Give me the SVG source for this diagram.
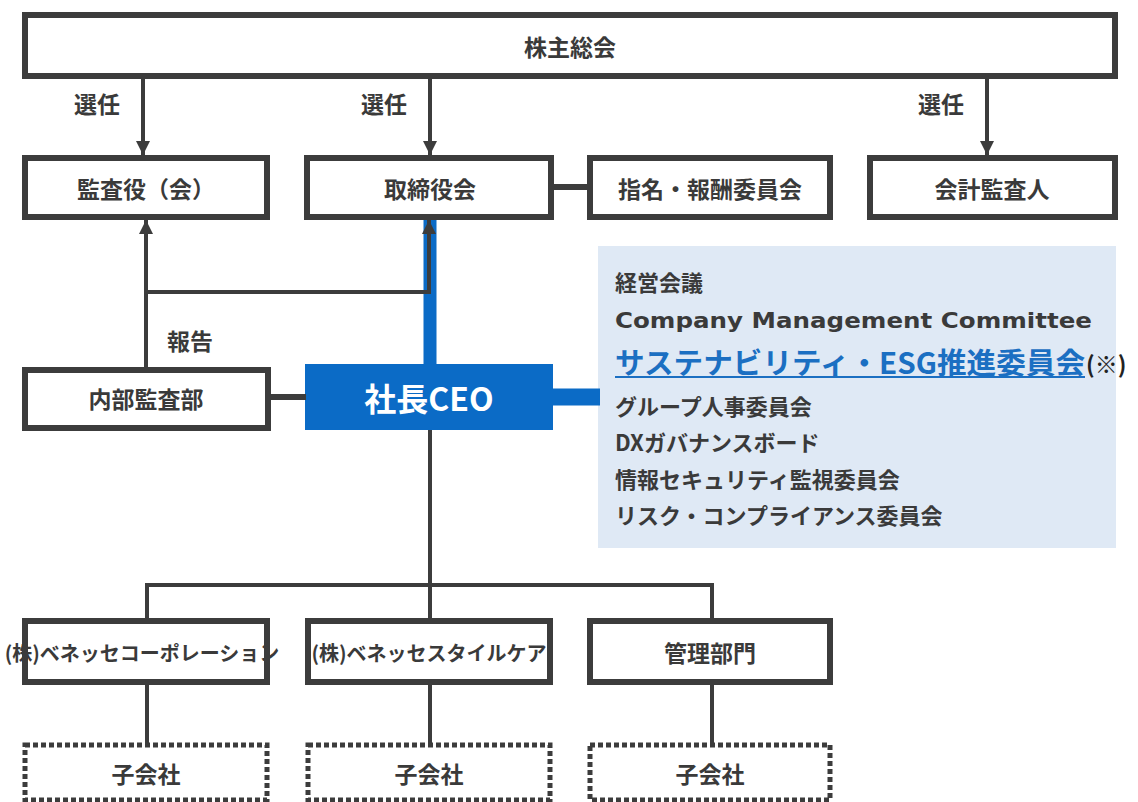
<svg xmlns="http://www.w3.org/2000/svg" width="1138" height="802" viewBox="0 0 1138 802">
<defs>
<marker id="ah" viewBox="0 0 14 14" refX="14" refY="7" markerWidth="14" markerHeight="14" markerUnits="userSpaceOnUse" orient="auto">
<path d="M0,0 L14,7 L0,14 Z" fill="#3c3c3c"/>
</marker>
<style>
.box{fill:#fff;stroke:#3c3c3c;stroke-width:6}
.dash{fill:#fff;stroke:#3c3c3c;stroke-width:5;stroke-dasharray:5 3}
.t{font-family:"Noto Sans CJK JP","Noto Sans",sans-serif;font-weight:bold;font-size:23px;fill:#3a3a3a;text-anchor:middle;dominant-baseline:central}
.s{font-size:20px}
.p{font-family:"Noto Sans CJK JP","Noto Sans",sans-serif;font-weight:bold;font-size:22px;fill:#3a3a3a;dominant-baseline:central}
.ln{stroke:#3c3c3c;stroke-width:4;fill:none}
.bl{stroke:#0b6bc6;fill:none}
</style>
</defs>
<rect width="1138" height="802" fill="#fff"/>

<g id="panel">
<rect x="598" y="246" width="518" height="302" fill="#dfe9f5"/>
<text class="p" x="615" y="281">経営会議</text>
<text class="p" x="615" y="320" style="font-family:'DejaVu Sans',sans-serif;font-size:22px" textLength="477" lengthAdjust="spacingAndGlyphs">Company Management  Committee</text>
<text class="p" x="615" y="361" style="font-size:29px;fill:#1b6fc2" textLength="470" lengthAdjust="spacingAndGlyphs">サステナビリティ・ESG推進委員会</text>
<line x1="615" y1="377" x2="1085" y2="377" stroke="#1b6fc2" stroke-width="2"/>
<text class="p" x="1086" y="363" style="font-size:23px;fill:#222">(※)</text>
<text class="p" x="615" y="405">グループ人事委員会</text>
<text class="p" x="615" y="441">DXガバナンスボード</text>
<text class="p" x="615" y="478">情報セキュリティ監視委員会</text>
<text class="p" x="615" y="514">リスク・コンプライアンス委員会</text>
</g>

<g id="n-shareholders">
<rect class="box" x="25" y="15" width="1090" height="61"/>
<text class="t" x="570" y="46">株主総会</text>
</g>
<g id="n-auditors">
<rect class="box" x="25" y="158" width="242" height="59"/>
<text class="t" x="146" y="188">監査役（会）</text>
</g>
<g id="n-board">
<rect class="box" x="307" y="158" width="244" height="59"/>
<text class="t" x="430" y="188">取締役会</text>
</g>
<g id="n-nomination">
<rect class="box" x="590" y="158" width="240" height="59"/>
<text class="t" x="710" y="188">指名・報酬委員会</text>
</g>
<g id="n-accounting">
<rect class="box" x="870" y="158" width="245" height="59"/>
<text class="t" x="992" y="188">会計監査人</text>
</g>
<g id="n-internal">
<rect class="box" x="25" y="370" width="243" height="58"/>
<text class="t" x="146" y="398">内部監査部</text>
</g>
<g id="n-ceo">
<rect x="305" y="364" width="248" height="66" fill="#0b6bc6"/>
<text class="t" x="429" y="397" style="fill:#fff;font-size:32px">社長CEO</text>
</g>
<g id="n-corp">
<rect x="25" y="621" width="242" height="61" fill="#fff"/>
<text class="t s" x="142" y="652">(株)ベネッセコーポレーション</text>
<rect x="25" y="621" width="242" height="61" fill="none" stroke="#3c3c3c" stroke-width="6"/>
</g>
<g id="n-stylecare">
<rect class="box" x="308" y="621" width="242" height="61"/>
<text class="t s" x="429" y="652">(株)ベネッセスタイルケア</text>
</g>
<g id="n-admin">
<rect class="box" x="590" y="621" width="240" height="61"/>
<text class="t" x="710" y="652">管理部門</text>
</g>
<g id="n-sub1">
<rect class="dash" x="25" y="745" width="242" height="55"/>
<text class="t" x="146" y="773">子会社</text>
</g>
<g id="n-sub2">
<rect class="dash" x="308" y="745" width="242" height="55"/>
<text class="t" x="429" y="773">子会社</text>
</g>
<g id="n-sub3">
<rect class="dash" x="590" y="745" width="240" height="55"/>
<text class="t" x="710" y="773">子会社</text>
</g>

<g id="connectors">
<line class="ln" x1="143" y1="79" x2="143" y2="155" marker-end="url(#ah)"/>
<line class="ln" x1="430" y1="79" x2="430" y2="155" marker-end="url(#ah)"/>
<line class="ln" x1="987" y1="79" x2="987" y2="155" marker-end="url(#ah)"/>
<line class="ln" x1="553" y1="187" x2="587" y2="187" style="stroke-width:6"/>
<line class="bl" x1="430" y1="220" x2="430" y2="366" stroke-width="13"/>
<line class="bl" x1="552" y1="397" x2="600" y2="397" stroke-width="17"/>
<polyline class="ln" points="146,292 429,292 429,220" marker-end="url(#ah)"/>
<line class="ln" x1="146" y1="367" x2="146" y2="220" marker-end="url(#ah)"/>
<line class="ln" x1="268" y1="397" x2="306" y2="397" style="stroke-width:6"/>
<line class="ln" x1="430" y1="430" x2="430" y2="587"/>
<polyline class="ln" points="147,618 147,585 712,585 712,618"/>
<line class="ln" x1="430" y1="585" x2="430" y2="618"/>
<line class="ln" x1="147" y1="685" x2="147" y2="743"/>
<line class="ln" x1="430" y1="685" x2="430" y2="743"/>
<line class="ln" x1="712" y1="685" x2="712" y2="743"/>
<text class="t" x="97" y="103">選任</text>
<text class="t" x="384" y="103">選任</text>
<text class="t" x="941" y="103">選任</text>
<text class="t" x="190" y="340">報告</text>
</g>
</svg>
